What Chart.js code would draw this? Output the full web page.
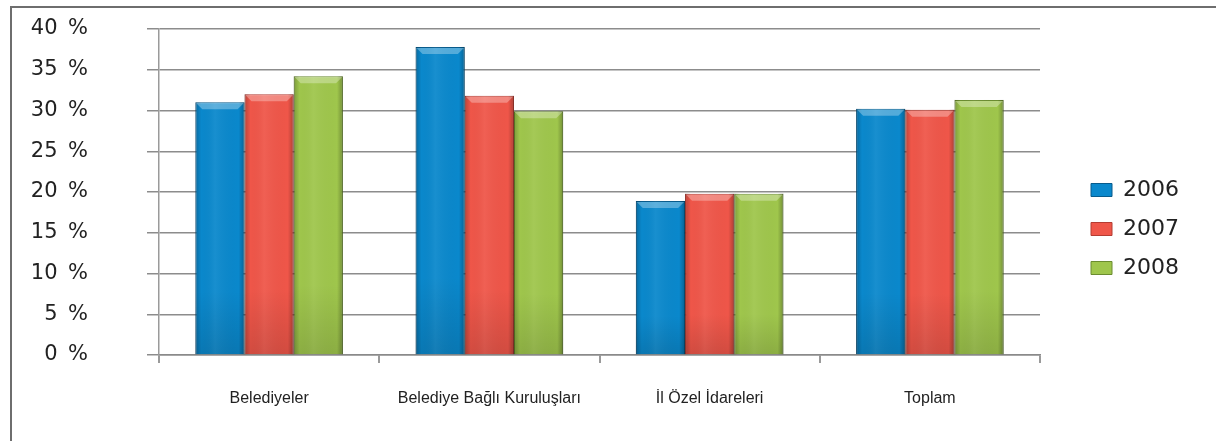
<!DOCTYPE html>
<html>
<head>
<meta charset="utf-8">
<script src="https://cdn.jsdelivr.net/npm/chart.js@4.4.1/dist/chart.umd.min.js"></script>
<style>
  html, body { margin: 0; padding: 0; background: #fff; }
  #wrap { position: relative; width: 1216px; height: 441px; overflow: hidden; }
  #frame { position: absolute; left: 10px; top: 6px; width: 1300px; height: 500px;
           border-left: 2px solid #6e6e6e; border-top: 2px solid #6e6e6e; }
  #chart { position: absolute; left: 0; top: 0; }
</style>
</head>
<body>
<div id="wrap">
  <div id="frame"></div>
  <canvas id="chart" width="1216" height="441"></canvas>
</div>
<script>
// veriler (grafikten okunan yaklaşık değerler, %)
const categories = ['Belediyeler', 'Belediye Bağlı Kuruluşları', 'İl Özel İdareleri', 'Toplam'];
const years = ['2006', '2007', '2008'];
const values2006 = [31.0, 37.8, 18.9, 30.2];
const values2007 = [32.0, 31.8, 19.8, 30.1];
const values2008 = [34.2, 29.9, 19.8, 31.3];
const yTicks = [0, 5, 10, 15, 20, 25, 30, 35, 40];

const colors = ['#0a88cc', '#ef5649', '#9fc64c'];
const edges = ['#075b8c', '#b43c32', '#6b8c30'];

// bar üzerine parlak kabartma efekti
const bevelPlugin = {
  id: 'bevel',
  afterDatasetsDraw(chart) {
    const ctx = chart.ctx;
    chart.data.datasets.forEach((ds, di) => {
      const meta = chart.getDatasetMeta(di);
      meta.data.forEach(bar => {
        const w = bar.width;
        const left = bar.x - w / 2;
        const top = bar.y;
        const h = bar.base - bar.y;
        ctx.save();
        const g = ctx.createLinearGradient(left, 0, left + w, 0);
        g.addColorStop(0, 'rgba(0,0,0,0.22)');
        g.addColorStop(0.12, 'rgba(0,0,0,0)');
        g.addColorStop(0.4, 'rgba(255,255,255,0.06)');
        g.addColorStop(0.88, 'rgba(0,0,0,0)');
        g.addColorStop(1, 'rgba(0,0,0,0.28)');
        ctx.fillStyle = g;
        ctx.fillRect(left, top, w, h);
        // alt kısım biraz koyu
        const gv = ctx.createLinearGradient(0, top, 0, top + h);
        gv.addColorStop(0, 'rgba(0,0,0,0)');
        gv.addColorStop(0.75, 'rgba(0,0,0,0)');
        gv.addColorStop(1, 'rgba(0,0,0,0.12)');
        ctx.fillStyle = gv;
        ctx.fillRect(left, top, w, h);
        // üst kabartma
        const bev = 7;
        ctx.beginPath();
        ctx.moveTo(left + 1, top + 1);
        ctx.lineTo(left + w - 1, top + 1);
        ctx.lineTo(left + w - bev, top + bev);
        ctx.lineTo(left + bev, top + bev);
        ctx.closePath();
        ctx.fillStyle = 'rgba(255,255,255,0.3)';
        ctx.fill();
        ctx.restore();
      });
    });
  }
};

const ctx = document.getElementById('chart').getContext('2d');

new Chart(ctx, {
  type: 'bar',
  data: {
    labels: categories,
    datasets: [
      { label: years[0], data: values2006 },
      { label: years[1], data: values2007 },
      { label: years[2], data: values2008 }
    ].map((d, i) => Object.assign(d, {
      backgroundColor: colors[i],
      borderColor: edges[i],
      borderWidth: 1,
      categoryPercentage: 0.67,
      barPercentage: 1.0
    }))
  },
  options: {
    responsive: false,
    animation: false,
    layout: { padding: { top: 29, bottom: 12, left: 0, right: 27 } },
    scales: {
      x: {
        afterFit: scale => { scale.height = 74; },
        grid: { drawOnChartArea: false, drawTicks: true, tickLength: 8, color: '#9a9a9a', lineWidth: 2 },
        border: { color: '#8a8a8a', width: 1.5 },
        ticks: {
          color: '#222',
          padding: 26,
          font: { family: '"Liberation Sans", Arial, sans-serif', size: 16 }
        }
      },
      y: {
        min: 0,
        max: 40,
        afterFit: scale => {
          scale.width = 159;
          scale.paddingTop = 0;
          scale.paddingBottom = 0;
        },
        afterBuildTicks: scale => { scale.ticks = yTicks.map(v => ({ value: v })); },
        grid: { color: '#8c8c8c', lineWidth: 1.5, tickLength: 12 },
        border: { color: '#9a9a9a', width: 1.5 },
        ticks: {
          color: '#222',
          padding: 59,
          font: { family: '"DejaVu Sans", sans-serif', size: 21 },
          callback: v => v + '\u2002%'
        }
      },
      spacer: {
        position: 'right',
        display: true,
        afterFit: scale => { scale.width = 34; },
        grid: { display: false },
        border: { display: false },
        ticks: { display: false }
      }
    },
    plugins: {
      legend: {
        position: 'right',
        align: 'center',
        labels: {
          color: '#222',
          boxWidth: 21,
          boxHeight: 13,
          padding: 17,
          font: { family: '"DejaVu Sans", sans-serif', size: 22 }
        }
      },
      tooltip: { enabled: false }
    }
  },
  plugins: [bevelPlugin]
});
</script>
</body>
</html>
